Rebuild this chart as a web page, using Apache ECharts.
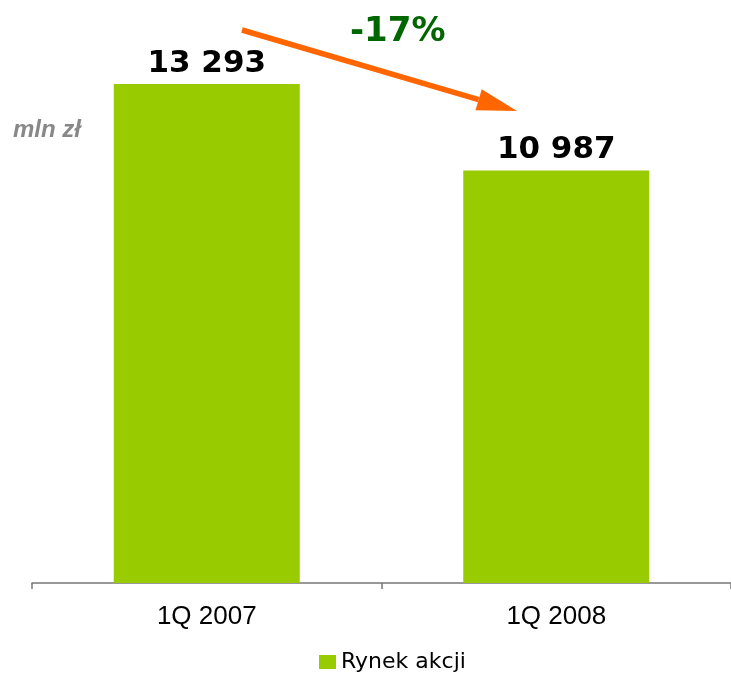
<!DOCTYPE html>
<html>
<head>
<meta charset="utf-8">
<script src="https://cdn.jsdelivr.net/npm/echarts@6/dist/echarts.min.js"></script>
<style>
  html, body { margin: 0; padding: 0; background: #fff; }
  #chart { width: 731px; height: 673px; }
</style>
</head>
<body>
<div id="chart"></div>
<script>
// dane
const categories = ['1Q 2007', '1Q 2008'];
const rynekAkcji = [13293, 10987];
const seriesName = 'Rynek akcji';
const changeLabel = '-17%';
const unitLabel = 'mln zł';

// etykiety z odstępem tysięcy
function fmtPl(v) {
    return String(v).replace(/\B(?=(\d{3})+(?!\d))/g, ' ');
}

const chart = echarts.init(document.getElementById('chart'));

// strzałka: punkt początkowy i grot
const arrowStart = [242, 30];
const arrowTip = [517, 111];
const dx = arrowTip[0] - arrowStart[0], dy = arrowTip[1] - arrowStart[1];
const len = Math.sqrt(dx * dx + dy * dy);
const ux = dx / len, uy = dy / len;
const headLen = 40, headHalf = 11;
const baseC = [arrowTip[0] - ux * headLen, arrowTip[1] - uy * headLen];

chart.setOption({
    animation: false,
    grid: { left: 32, right: 0, top: 20, bottom: 90 },
    legend: {
        data: [seriesName],
        left: 314,
        top: 646,
        itemWidth: 17,
        itemHeight: 14,
        itemGap: 4,
        icon: 'rect',
        textStyle: { fontFamily: 'DejaVu Sans', fontSize: 22, color: '#000' }
    },
    xAxis: {
        type: 'category',
        data: categories,
        axisLine: { lineStyle: { color: '#777', width: 1.5 } },
        axisTick: { show: true, length: 6, lineStyle: { color: '#777', width: 1.5 } },
        axisLabel: {
            margin: 21,
            fontFamily: 'Liberation Sans',
            fontSize: 26,
            color: '#000'
        }
    },
    yAxis: {
        type: 'value',
        min: 0,
        max: 15000,
        show: false,
        splitLine: { show: false }
    },
    series: [{
        name: seriesName,
        type: 'bar',
        data: rynekAkcji,
        barWidth: 186,
        itemStyle: { color: '#99cc00' },
        label: {
            show: true,
            position: 'top',
            distance: 5,
            formatter: p => fmtPl(p.value),
            fontFamily: 'DejaVu Sans',
            fontWeight: 'bold',
            fontSize: 31,
            color: '#000'
        }
    }],
    graphic: [
        {
            type: 'text',
            left: 13,
            top: 118,
            style: {
                text: unitLabel,
                font: 'italic bold 24px "Liberation Sans"',
                fill: '#888'
            }
        },
        {
            type: 'text',
            left: 350,
            top: 15,
            style: {
                text: changeLabel,
                font: 'bold 34px "DejaVu Sans"',
                fill: '#006600'
            }
        },
        {
            type: 'line',
            shape: { x1: arrowStart[0], y1: arrowStart[1], x2: baseC[0], y2: baseC[1] },
            style: { stroke: '#ff6600', lineWidth: 5.5 }
        },
        {
            type: 'polygon',
            shape: {
                points: [
                    arrowTip,
                    [baseC[0] - uy * headHalf, baseC[1] + ux * headHalf],
                    [baseC[0] + uy * headHalf, baseC[1] - ux * headHalf]
                ]
            },
            style: { fill: '#ff6600' }
        }
    ]
});
</script>
</body>
</html>
